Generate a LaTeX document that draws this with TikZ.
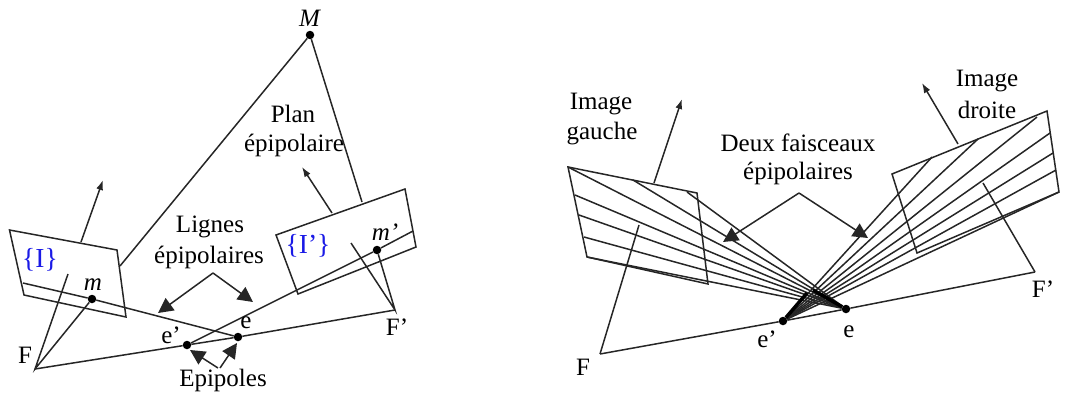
\documentclass[tikz,border=0pt]{standalone}
\usepackage{fontspec}
\setmainfont{Liberation Serif}
\usetikzlibrary{arrows.meta}
\definecolor{planblue}{HTML}{1A1AE6}
\tikzset{
  trait/.style={line width=1.5pt, black!85},
  axe/.style={trait, -{Latex[length=10pt,width=7pt]}},
  fleche/.style={trait, -{Triangle[length=15pt,width=15pt]}},
  dot/.style={circle, fill=black, inner sep=0pt, minimum size=8.5pt},
  lab/.style={inner sep=0pt, font=\fontsize{25}{30}\selectfont},
}
\begin{document}
\begin{tikzpicture}[x=1pt,y=-1pt]
    \useasboundingbox (0,0) rectangle (1078,399);
    % left drawing
    \coordinate (F1) at (35,369);
    \coordinate (G1) at (395,310);
    \node[dot] (M) at (310,35) {};
    \node[dot] (e1) at (238,337) {};
    \node[dot] (ep1) at (187,345) {};
    \node[dot] (m1) at (92,299) {};
    \node[dot] (mp1) at (377,250) {};
    \draw[trait] (9.5,230) -- (117,250) -- (126,317) -- (24,295) -- cycle;
    \draw[trait] (276,235) -- (405,189) -- (416,247) -- (298,294) -- cycle;
    \coordinate (a1) at (120,266);
    \coordinate (a2) at (362,202);
    \draw[trait] (a1) -- (M) -- (a2);
    \coordinate (b1) at (23,283);
    \coordinate (b2) at (413,231);
    \draw[trait] (b1) -- (m1) -- (e1);
    \draw[trait] (ep1) -- (mp1) -- (b2);
    \draw[trait] (F1) -- (ep1) -- (e1) -- (G1);
    \coordinate (c1) at (68,274);
    \coordinate (c2) at (351,243);
    \draw[trait] (c1) -- (F1) -- (m1);
    \draw[trait] (c2) -- (G1) -- (mp1);
    \coordinate (n1) at (81,242);
    \coordinate (n2) at (103,180);
    \coordinate (n3) at (332,213);
    \coordinate (n4) at (302,167);
    \draw[axe] (n1) -- (n2);
    \draw[axe] (n3) -- (n4);
    \coordinate (l0) at (213,273);
    \coordinate (l1) at (158,313);
    \coordinate (l2) at (253,302);
    \draw[fleche] (l0) -- (l1);
    \draw[fleche] (l0) -- (l2);
    \coordinate (p1) at (218,368);
    \coordinate (p2) at (190,350);
    \coordinate (p3) at (220,368);
    \coordinate (p4) at (237,343);
    \draw[fleche] (p1) -- (p2);
    \draw[fleche] (p3) -- (p4);
    \node[lab] (tM) at (310,18) {\textit{M}};
    \node[lab] (tPlan) at (293,114) {Plan};
    \node[lab] (tPlan2) at (294,145) {épipolaire};
    \node[lab] (tLig) at (210,227) {Lignes};
    \node[lab] (tLig2) at (209,257) {épipolaires};
    \node[lab, planblue, scale=1.1] (tI) at (40,260) {\{I\}};
    \node[lab, planblue, scale=1.1] (tIp) at (308,246) {\{I’\}};
    \node[lab] (tm) at (93,285) {\textit{m}};
    \node[lab] (tmp) at (385,232) {\textit{m’}};
    \node[lab] (te) at (246,323) {e};
    \node[lab] (tep) at (171,335) {e’};
    \node[lab] (tF) at (25,355) {F};
    \node[lab] (tG) at (397,327) {F’};
    \node[lab] (tEpi) at (223,380) {Epipoles};
    % right drawing
    \coordinate (F2) at (600,354);
    \coordinate (G2) at (1035,272);
    \node[dot] (e2) at (846,309) {};
    \node[dot] (ep2) at (783,321) {};
    \draw[trait] (568,167) -- (697,193) -- (708,284) -- (587,257) -- cycle;
    \draw[trait] (892,174) -- (1047,111) -- (1059,192) -- (917,253) -- cycle;
    \foreach \px/\py in {568/167,633/180,687/192,575/195,579/215,584/237,587/257}
      \draw[trait] (e2) -- (\px,\py);
    \foreach \px/\py in {932/157,978/139,1037/117,1050/133,1053/153,1056/170,1059/192}
      \draw[trait] (ep2) -- (\px,\py);
    \coordinate (t1) at (813,290);
    \coordinate (t2) at (807,293);
    \draw[line width=3.5pt] (t1) -- (e2);
    \draw[line width=3.5pt] (t2) -- (ep2);
    \draw[trait] (F2) -- (ep2) -- (e2) -- (G2);
    \coordinate (c3) at (639,225);
    \coordinate (c4) at (983,183);
    \draw[trait] (c3) -- (F2);
    \draw[trait] (c4) -- (G2);
    \coordinate (n5) at (654,183);
    \coordinate (n6) at (682,99);
    \coordinate (n7) at (958,144);
    \coordinate (n8) at (922,83);
    \draw[axe] (n5) -- (n6);
    \draw[axe] (n7) -- (n8);
    \coordinate (d0) at (799,193);
    \coordinate (d1) at (723,242);
    \coordinate (d2) at (868,238);
    \draw[fleche] (d0) -- (d1);
    \draw[fleche] (d0) -- (d2);
    \node[lab] (tImg) at (601,104) {Image};
    \node[lab] (tImg2) at (602,134) {gauche};
    \node[lab] (tDeux) at (798,143) {Deux faisceaux};
    \node[lab] (tDeux2) at (798,173) {épipolaires};
    \node[lab] (tImd) at (987,81) {Image};
    \node[lab] (tImd2) at (987,110) {droite};
    \node[lab] (tF2) at (583,367) {F};
    \node[lab] (tG2) at (1043,289) {F’};
    \node[lab] (te2) at (849,332) {e};
    \node[lab] (tep2) at (767,339) {e’};
  \end{tikzpicture}
\end{document}
